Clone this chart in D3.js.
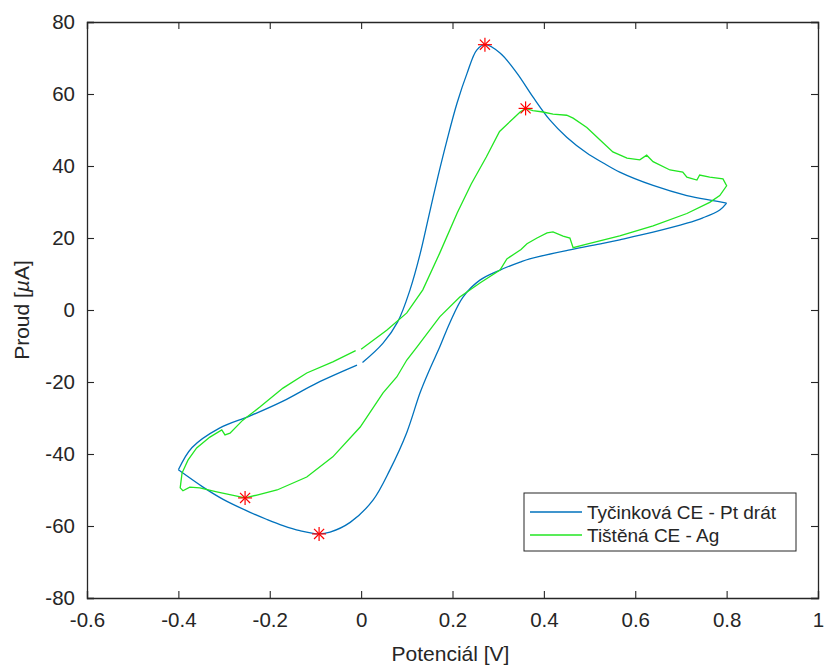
<!DOCTYPE html>
<html>
<head>
<meta charset="utf-8">
<script src="https://cdn.jsdelivr.net/npm/d3@7"></script>
<style>
  body { margin: 0; background: #fff; }
  text { font-family: "Liberation Sans", Arial, sans-serif; fill: #262626; }
</style>
</head>
<body>
<div id="chart"></div>
<script>
// Tyčinková CE - Pt drát  [V, µA]
var ptWire = [
  [0.003,-14.6],[0.048,-9.2],[0.08,-3.3],[0.107,5.6],[0.129,15.5],[0.148,26],[0.168,37],
  [0.188,47.2],[0.21,57.5],[0.232,65.8],[0.253,72.2],[0.271,73.7],[0.304,71.4],[0.341,65.8],
  [0.376,59.2],[0.413,52.8],[0.45,48],[0.494,43.6],[0.529,40.9],[0.566,38.3],[0.639,34.6],
  [0.713,31.8],[0.77,30.4],[0.80,29.7],
  [0.785,27.8],[0.748,25.6],[0.713,24.1],[0.639,21.6],[0.566,19.5],[0.529,18.5],[0.457,16.7],
  [0.369,14.2],[0.348,13.3],[0.304,11.1],[0.26,8.3],[0.223,3.6],[0.194,-3.6],[0.172,-10.3],
  [0.15,-16.5],[0.129,-23],[0.10,-34],[0.063,-44.4],[0.026,-52.8],[-0.024,-59],[-0.068,-61.7],
  [-0.092,-62.2],[-0.134,-61.3],[-0.171,-59.9],[-0.206,-58.2],[-0.243,-56.2],[-0.302,-52.6],
  [-0.346,-49.2],[-0.40,-44.4],
  [-0.37,-38.2],[-0.31,-32.8],[-0.243,-29.4],[-0.171,-25.3],[-0.097,-20.3],[-0.009,-15.3]
];

// Tištěná CE - Ag  [V, µA]
var agPrinted = [
  [0.0,-10.9],[0.056,-5.6],[0.10,-0.8],[0.135,5.6],[0.172,15.8],[0.21,26.9],[0.241,35],
  [0.274,42.5],[0.303,49.6],[0.333,53.2],[0.348,55],[0.36,56],
  [0.376,55.4],[0.398,55],[0.42,54.4],[0.45,54.1],[0.464,53.3],[0.494,50.7],[0.523,47.2],
  [0.551,43.9],[0.582,42.2],[0.61,41.7],[0.625,43],[0.639,41.2],[0.676,38.9],[0.704,38.3],
  [0.713,36.9],[0.735,36.1],[0.741,37.5],[0.763,36.9],[0.792,36.4],[0.80,34.5],
  [0.785,31.8],[0.763,29.9],[0.713,26.8],[0.639,23.4],[0.566,20.6],[0.494,18.3],[0.464,17.3],
  [0.457,20],[0.442,20.5],[0.42,21.7],[0.407,21.4],[0.385,20],[0.363,18.4],[0.35,16.8],
  [0.319,14.2],[0.304,11.1],[0.26,7.5],[0.216,3.6],[0.172,-1.9],[0.122,-10.3],[0.10,-13.9],
  [0.078,-18.6],[0.048,-23],[-0.002,-32.5],[-0.062,-40.8],[-0.119,-46.4],[-0.184,-50],
  [-0.228,-51.4],[-0.254,-52.2],[-0.316,-50.5],[-0.353,-49.4],[-0.375,-49.2],[-0.39,-50.2],
  [-0.396,-49.4],[-0.392,-45.3],[-0.379,-41.7],[-0.36,-38.3],[-0.331,-35.3],[-0.305,-33.3],
  [-0.298,-34.7],[-0.287,-34.2],[-0.259,-30.6],[-0.221,-26.9],[-0.171,-21.7],[-0.119,-17.5],
  [-0.062,-14.4],[-0.012,-11.3]
];

// extremes marked with red asterisks
var peaks = [[0.271,73.7],[-0.092,-62.2],[0.36,56],[-0.254,-52.2]];

var seriesNames = ["Tyčinková CE - Pt drát", "Tištěná CE - Ag"];
var seriesColors = ["#0072bd", "#22e622"];
var xTicks = [-0.6,-0.4,-0.2,0,0.2,0.4,0.6,0.8,1];
var yTicks = [-80,-60,-40,-20,0,20,40,60,80];

var W = 825, H = 669;
var margin = { top: 22, right: 7, bottom: 71, left: 87 },
    width = W - margin.left - margin.right,
    height = H - margin.top - margin.bottom;

var svg = d3.select("#chart").append("svg")
    .attr("width", W).attr("height", H);
var g = svg.append("g")
    .attr("transform", "translate(" + margin.left + "," + margin.top + ")");

var x = d3.scaleLinear().domain([-0.6, 1]).range([0, width]);
var y = d3.scaleLinear().domain([-80, 80]).range([height, 0]);

var fmt = function (d) { return d === 0 ? "0" : String(d); };

// axes, ticks pointing inwards on all four sides
var axB = g.append("g").attr("transform", "translate(0," + height + ")")
    .call(d3.axisBottom(x).tickValues(xTicks).tickSize(-7).tickPadding(14).tickFormat(fmt));
var axT = g.append("g")
    .call(d3.axisTop(x).tickValues(xTicks).tickSize(-7).tickFormat(""));
var axL = g.append("g")
    .call(d3.axisLeft(y).tickValues(yTicks).tickSize(-7).tickPadding(12).tickFormat(fmt));
var axR = g.append("g").attr("transform", "translate(" + width + ",0)")
    .call(d3.axisRight(y).tickValues(yTicks).tickSize(-7).tickFormat(""));

[axB, axT, axL, axR].forEach(function (a) {
  a.select(".domain").attr("stroke", "#262626").attr("stroke-width", 1.3);
  a.selectAll(".tick line").attr("stroke", "#262626").attr("stroke-width", 1.1);
  a.selectAll(".tick text").style("font-size", "20.5px").attr("fill", "#262626")
    .style("font-family", '"Liberation Sans", Arial, sans-serif');
});

// split a sweep into its scan segments so the turning points stay sharp
function sweeps(pts) {
  var out = [[pts[0]]], dir = 0;
  for (var i = 1; i < pts.length; i++) {
    var d = Math.sign(pts[i][0] - pts[i - 1][0]);
    if (dir !== 0 && d !== 0 && d !== dir) out.push([pts[i - 1]]);
    if (d !== 0) dir = d;
    out[out.length - 1].push(pts[i]);
  }
  return out;
}

var smooth = d3.line().curve(d3.curveCatmullRom)
    .x(function (d) { return x(d[0]); }).y(function (d) { return y(d[1]); });
var line = d3.line().x(function (d) { return x(d[0]); }).y(function (d) { return y(d[1]); });

g.append("path")
    .attr("d", sweeps(ptWire).map(smooth).join(""))
    .attr("fill", "none").attr("stroke", seriesColors[0]).attr("stroke-width", 1.3)
    .attr("stroke-linejoin", "round");
g.append("path").datum(agPrinted)
    .attr("d", line).attr("fill", "none")
    .attr("stroke", seriesColors[1]).attr("stroke-width", 1.3);

// asterisk markers
var r = 7;
var star = g.selectAll(".star").data(peaks).enter().append("g")
    .attr("transform", function (d) { return "translate(" + x(d[0]) + "," + y(d[1]) + ")"; });
[[-r,0,r,0],[0,-r,0,r],[-r*0.72,-r*0.72,r*0.72,r*0.72],[-r*0.72,r*0.72,r*0.72,-r*0.72]].forEach(function (s) {
  star.append("line")
    .attr("x1", s[0]).attr("y1", s[1]).attr("x2", s[2]).attr("y2", s[3])
    .attr("stroke", "#ff0000").attr("stroke-width", 1.2);
});

// axis labels
svg.append("text")
    .attr("x", margin.left + width / 2 - 2).attr("y", 661)
    .attr("text-anchor", "middle").style("font-size", "21px")
    .text("Potenciál [V]");
var yl = svg.append("text")
    .attr("transform", "translate(29," + (margin.top + height / 2) + ") rotate(-90)")
    .attr("text-anchor", "middle").style("font-size", "21px");
yl.append("tspan").text("Proud [");
yl.append("tspan").style("font-style", "italic").text("µ");
yl.append("tspan").text("A]");

// legend
var lg = svg.append("g").attr("transform", "translate(524,493)");
lg.append("rect").attr("width", 272).attr("height", 58)
    .attr("fill", "#fff").attr("stroke", "#262626").attr("stroke-width", 1);
seriesNames.forEach(function (name, i) {
  var yy = 19 + i * 23;
  lg.append("line").attr("x1", 6).attr("x2", 58).attr("y1", yy).attr("y2", yy)
    .attr("stroke", seriesColors[i]).attr("stroke-width", 1.3);
  lg.append("text").attr("x", 63).attr("y", yy).attr("dy", "0.36em")
    .style("font-size", "19px").text(name);
});
</script>
</body>
</html>
